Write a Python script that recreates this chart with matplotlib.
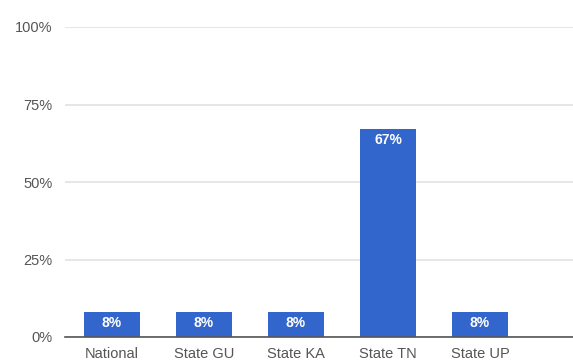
import matplotlib
matplotlib.use("Agg")
import matplotlib.pyplot as plt
from matplotlib.ticker import FuncFormatter

categories = ["National", "State GU", "State KA", "State TN", "State UP"]
shares = [8, 8, 8, 67, 8]          # percent
yticks = [0, 25, 50, 75, 100]

BLUE = "#3366cc"
plt.rcParams["font.family"] = ["Liberation Sans", "DejaVu Sans"]

fig = plt.figure(figsize=(5.73, 3.61), dpi=100)
# plot area: x 65..573 px, y 27..337 px
ax = fig.add_axes([65 / 573, (361 - 337) / 361, (573 - 65) / 573, (337 - 27) / 361])

x = range(len(categories))
ax.bar(x, shares, width=56 / 92, color=BLUE, zorder=3)
for xi, v in zip(x, shares):
    ax.text(xi, v - 1.3, f"{v}%", ha="center", va="top", color="white",
            fontsize=10, fontweight="bold", zorder=4)

ax.set_xlim(-0.51, 5.01)
ax.set_ylim(0, 100)
ax.set_yticks(yticks)
ax.yaxis.set_major_formatter(FuncFormatter(lambda v, _: f"{v:.0f}%"))
ax.set_xticks(list(x))
ax.set_xticklabels(categories)
ax.tick_params(length=0, labelsize=10.5, colors="#555555")
ax.tick_params(axis="y", pad=9)
ax.tick_params(axis="x", pad=7)

ax.grid(axis="y", color="#e2e2e2", linewidth=1.2, zorder=0)
for s in ["top", "right", "left"]:
    ax.spines[s].set_visible(False)
ax.spines["bottom"].set_color("#555555")
ax.spines["bottom"].set_linewidth(1.2)
ax.spines["bottom"].set_zorder(5)

fig.savefig("out.png", dpi=100)
